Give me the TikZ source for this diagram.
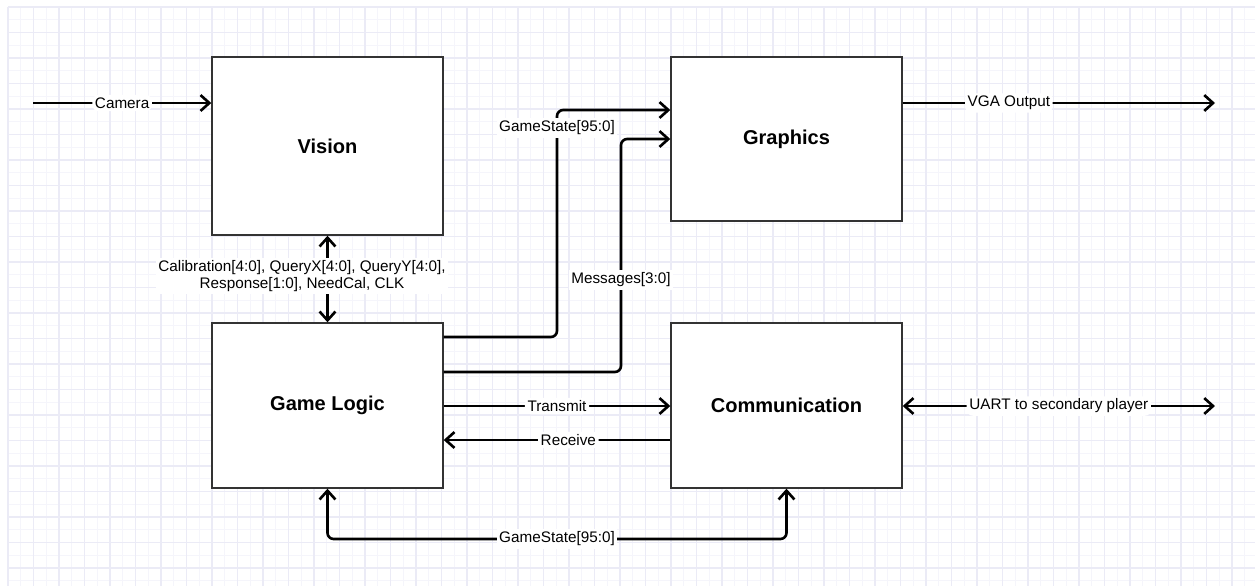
\documentclass[tikz,border=0pt]{standalone}
\usepackage{fontspec}
\setmainfont{Liberation Sans}
\usetikzlibrary{arrows.meta}
\definecolor{gridminor}{RGB}{245,245,251}
\definecolor{gridmajor}{RGB}{235,235,246}
\tikzset{
  blockbox/.style={draw=black!80, line width=0.8pt, fill=white, minimum width=231*0.02cm, inner sep=0pt, font=\fontsize{11.4pt}{13pt}\selectfont\bfseries},
  conn/.style={line width=1.5pt, line join=round, rounded corners=3.5pt, >={Straight Barb[length=5pt,width=9pt]}},
  lab/.style={fill=white, inner sep=1.5pt, font=\fontsize{8.7pt}{9.8pt}\selectfont, align=center},
  minorline/.style={gridminor, line width=0.5pt},
  majorline/.style={gridmajor, line width=0.6pt},
}
\begin{document}
\begin{tikzpicture}[x=0.02cm, y=-0.02cm]
\useasboundingbox (0,0) rectangle (1255,586);
\fill[white] (0,0) rectangle (1255,586);
% grid
\foreach \i in {0,...,97} {
  \draw[minorline] ({8+\i*12.75},7) -- ({8+\i*12.75},586);
}
\foreach \j in {0,...,45} {
  \draw[minorline] (8,{7+\j*12.75}) -- (1255,{7+\j*12.75});
}
\foreach \i in {0,...,48} {
  \draw[majorline] ({8+\i*25.5},7) -- ({8+\i*25.5},586);
}
\foreach \j in {0,...,22} {
  \draw[majorline] (8,{7+\j*25.5}) -- (1255,{7+\j*25.5});
}
% blocks
\node[blockbox, minimum height=178*0.02cm] (vision) at (327.5,146) {Vision};
\node[blockbox, minimum height=164*0.02cm] (graphics) at (786.5,139) {Graphics};
\node[blockbox, minimum height=165*0.02cm] (logic) at (327.5,405.5) {Game Logic};
\node[blockbox, minimum height=165*0.02cm] (comm) at (786.5,405.5) {Communication};
% free ends
\coordinate (camin) at (33,103);
\coordinate (vgaout) at (1215,103);
\coordinate (uartout) at (1215,406);
% Camera
\draw[conn,->] (camin) -- node[lab] (camlab) {Camera} (camin -| vision.west);
% VGA
\draw[conn,->] (vgaout -| graphics.east) -- node[lab, pos=0.34] (vgalab) {VGA Output} (vgaout);
% Vision <-> Logic
\draw[conn,<->] (vision.south) -- (logic.north);
\node[lab] (buslab) at (302,276) {Calibration[4:0], QueryX[4:0], QueryY[4:0],\\Response[1:0], NeedCal, CLK};
% GameState to graphics
\draw[conn,->] (logic.east |- 0,337) -| (557,110) -- (graphics.west |- 0,110);
\node[lab] (gslab) at (557,128) {GameState[95:0]};
% Messages
\draw[conn,->] (logic.east |- 0,372) -| (621,139) -- (graphics.west |- 0,139);
\node[lab] (msglab) at (621,280) {Messages[3:0]};
% Transmit / Receive
\draw[conn,->] (logic.east |- 0,406) -- node[lab] (txlab) {Transmit} (comm.west |- 0,406);
\draw[conn,->] (comm.west |- 0,440) -- node[lab, pos=0.45] (rxlab) {Receive} (logic.east |- 0,440);
% UART
\draw[conn,<->] (comm.east |- uartout) -- node[lab, pos=0.5] (uartlab) {UART to secondary player} (uartout);
% GameState bottom
\draw[conn,<->] (logic.south) -- (327.5,539) -- (786.5,539) -- (comm.south);
\node[lab] (gs2lab) at (557,539) {GameState[95:0]};
\end{tikzpicture}
\end{document}
